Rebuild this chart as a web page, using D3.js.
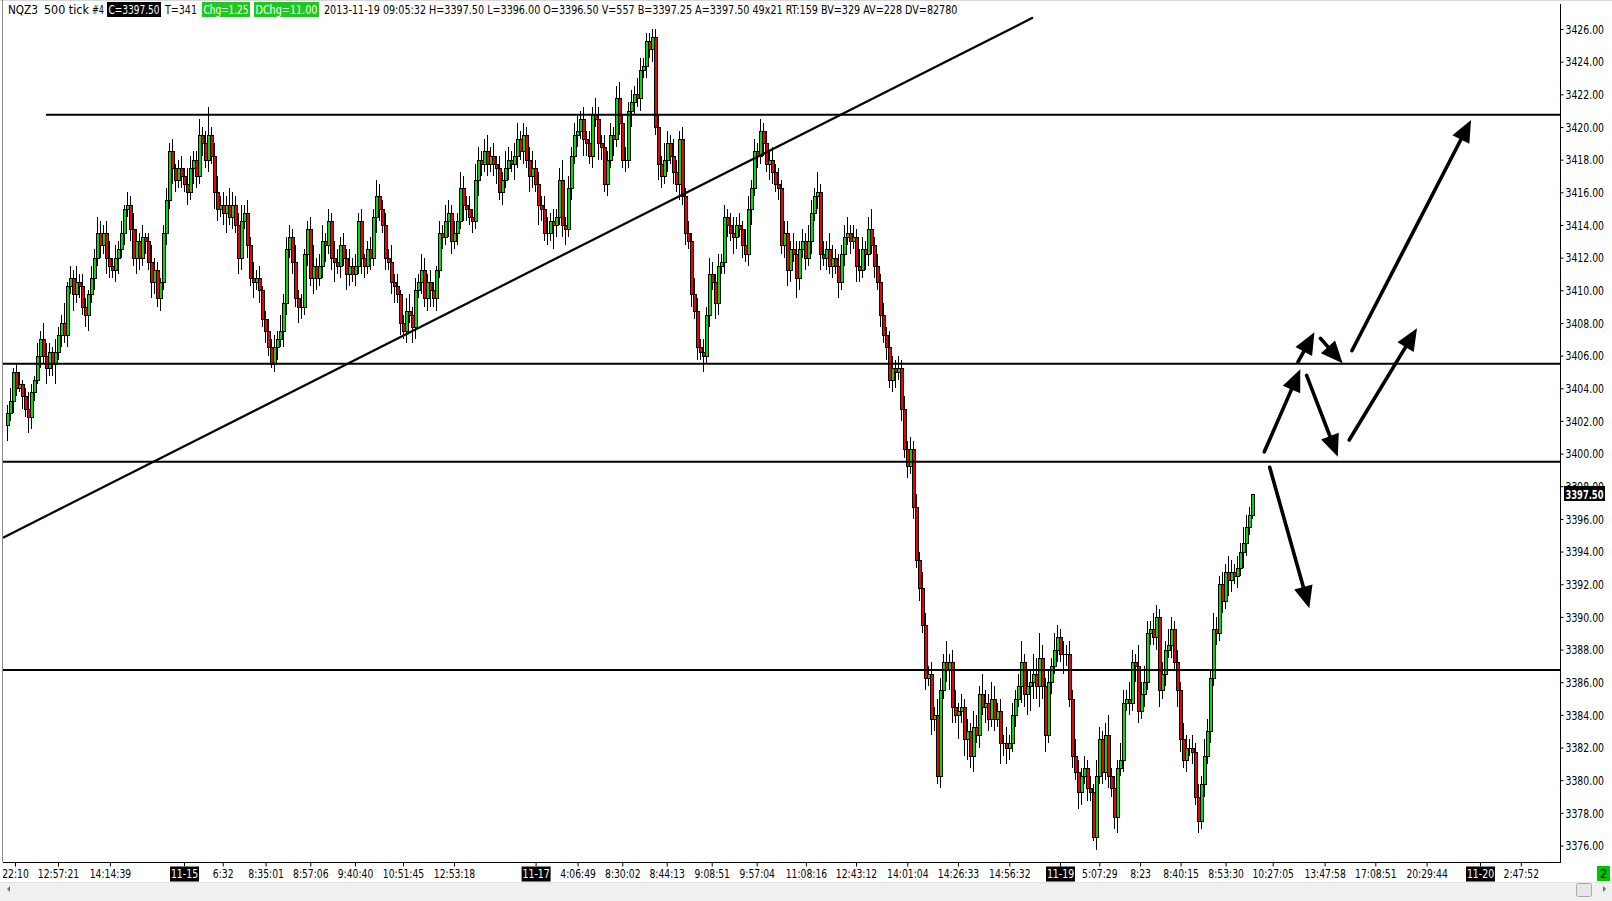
<!DOCTYPE html>
<html><head><meta charset="utf-8">
<script src="https://cdn.jsdelivr.net/npm/d3@7"></script>
<style>
html,body{margin:0;padding:0;background:#fff;overflow:hidden}
svg{display:block}
text{font-family:"DejaVu Sans Condensed","DejaVu Sans",sans-serif;font-size:13px;fill:#000}
</style></head><body>
<svg id="c" width="1612" height="901"></svg>
<script>
// ---------- DATA ----------
const firstOpen = 3401.75;
const closes = [
3402.5,3403.25,3405,3404,3404.25,3403.5,3402.75,3402.25,3403.75,3404.5,3406,3407,3406,3405.25,3406.25,3405.5,3406.25,3407.25,3408,3407.25,
3410.25,3410.75,3409.75,3410.5,3410.25,3409,3408.5,3409.75,3410.75,3412,3413.5,3412.75,3413.5,3412,3411.5,3411.25,3412,3412.5,3413.5,3415,
3415.25,3413.75,3412,3413,3412,3413.25,3413,3411.75,3410.5,3411.25,3409.5,3410.5,3413.5,3415.5,3418.5,3417.5,3416.75,3417.5,3417,3416.5,
3416,3417.5,3418,3417,3419.5,3419,3418,3419.5,3418.25,3416,3415,3415.25,3414.75,3415.25,3414.5,3415.25,3414,3412,3414.25,3414.75,
3412.75,3410.75,3410.5,3410.75,3410,3408.25,3407.5,3406.5,3405.5,3406.5,3407,3407.5,3409.25,3412.5,3413.25,3411.75,3409.5,3409,3409,3412.25,
3413.75,3410.75,3411.5,3410.75,3411.5,3413,3412.75,3414.25,3412,3411.75,3411.5,3412.75,3412,3411,3411.5,3411,3411.5,3414.25,3412,3411.5,
3412.5,3412,3414.5,3415.75,3415,3414,3412,3411.75,3410.5,3410.25,3409.75,3408,3407.5,3408.75,3408.5,3407.75,3410,3410.5,3411.25,3409.5,
3410.5,3410,3409.5,3411.25,3413.5,3413.25,3414.25,3414.75,3413,3413.5,3414.25,3416.25,3415.25,3415,3414.5,3414.25,3416.75,3418,3417.75,3418.5,
3417.75,3418.25,3417.75,3417.5,3416,3416.75,3417.5,3418,3417.75,3418.25,3419.25,3418.5,3419.5,3418,3417,3417.5,3416.5,3415.25,3415,3413.5,
3413.5,3414.25,3414,3414.5,3416.75,3414,3413.75,3416.25,3418.25,3419.5,3419.75,3420.5,3419.25,3419,3418.25,3420.75,3420.5,3419,3418.75,3416.5,
3418,3419.5,3419.25,3421.75,3420.25,3418,3418,3421,3421.5,3422,3421.75,3423.5,3423.75,3425.25,3424.75,3425.5,3420,3417.75,3417,3418,
3419,3418.25,3417.25,3416.5,3419.25,3415.75,3413.5,3413,3409.75,3408.75,3406.5,3406.25,3406,3408.5,3411,3410.5,3409.25,3411.5,3411.75,3414.5,
3414,3413.5,3413.25,3414,3413.75,3412.75,3412.25,3415,3416.25,3418.5,3418.25,3419.75,3419,3417.75,3418,3417.25,3416.5,3416.25,3412.75,3413.5,
3411.25,3412.5,3412.25,3410.75,3412.5,3413,3412,3413,3414.75,3415.75,3416,3412.25,3412,3412.5,3411.5,3412,3411.5,3410.5,3412.25,3413.25,
3413.5,3413,3413.25,3411.5,3411.25,3412.5,3412.25,3413.75,3412.75,3411.5,3410.5,3408.5,3407.25,3406.5,3404.5,3405.25,3405,3405.25,3402.75,3400.25,
3399.25,3400.25,3396.75,3393.5,3391.75,3389.5,3386.25,3386.5,3383.75,3384,3380.25,3385.5,3387.25,3386.75,3387.25,3384.5,3384,3384.25,3384.5,3382.5,
3383,3381.5,3383.25,3382.75,3385.25,3384.5,3384.75,3383.75,3385,3383.75,3384.25,3382.25,3382.25,3382,3382.25,3384,3385,3385.75,3387.25,3385.25,
3385.75,3386,3386.5,3385.75,3387.5,3385.75,3382.75,3386,3387,3388,3388.75,3387.75,3387.75,3387.75,3385,3381.5,3380.5,3379.25,3380.25,3380.75,
3379.5,3379.25,3376.5,3380.25,3382.5,3380.5,3382.75,3380.25,3379.5,3377.75,3380.75,3381.25,3384.75,3385,3384.75,3387.25,3387,3384.25,3385.25,3386,
3389,3389.25,3388.75,3390,3385.5,3386.5,3388,3388.25,3389.25,3387.25,3385.5,3382.5,3381.25,3382,3382,3381.75,3379,3377.5,3379.75,3381.5,
3383,3386.25,3389.25,3389,3392,3391,3392.75,3392.25,3392.75,3392.5,3393,3394,3394.5,3395.5,3396.25,3397.5
];
// wick lengths in ticks (0.25 pt) above / below the body
const wickUp = [
2,3,1,2,3,1,2,4,2,1,3,2,4,3,2,1,3,2,2,5,
1,3,2,4,2,3,2,1,3,2,4,3,2,3,4,2,3,2,3,1,
3,2,4,3,2,3,1,2,4,3,2,1,2,3,2,3,1,2,3,2,
4,3,2,2,4,2,3,7,2,3,4,2,3,2,4,3,2,3,4,2,
3,2,4,2,3,1,2,3,2,3,2,4,2,3,3,2,4,2,3,1,
2,3,5,2,3,4,2,3,2,4,3,2,3,2,4,2,3,2,3,1,
2,3,2,4,3,2,3,2,4,2,3,1,2,3,4,2,3,2,4,3,
2,3,2,1,3,2,4,3,2,3,2,4,3,2,3,2,4,3,2,3,
4,2,3,2,3,2,4,3,2,3,4,2,3,2,3,4,2,3,2,3,
4,2,3,2,3,5,2,3,2,3,4,2,3,2,3,2,4,3,2,3,
2,3,2,3,4,2,3,2,3,2,4,3,2,2,2,2,2,3,2,4,
3,2,4,3,2,3,2,3,2,4,3,2,3,2,4,3,2,3,2,3,
2,3,4,2,3,2,4,3,2,3,2,3,2,3,2,3,2,4,2,3,
3,2,4,3,2,3,2,4,3,2,5,2,3,2,4,3,2,3,2,3,
4,2,3,2,4,3,2,3,5,2,3,2,3,2,4,3,2,3,2,3,
2,3,2,3,2,4,3,2,3,2,4,3,2,5,2,3,4,2,3,2,
3,2,4,3,2,5,3,2,4,3,2,3,2,4,2,3,2,3,5,2,
4,3,5,4,6,3,2,3,2,4,3,2,3,2,3,2,4,3,2,3,
2,3,2,4,3,2,3,5,2,3,2,4,3,2,4,3,2,5,3,4,
3,2,4,3,2,3,2,4,3,2,3,2,4,3,2,3,2,3,2,4,
3,2,4,3,2,3,2,4,3,2,3,2,4,3,2,0
];
const wickDown = [
4,2,3,2,1,3,2,4,3,2,1,3,2,4,2,3,5,2,3,2,
3,2,4,2,3,2,3,4,2,3,2,3,2,4,3,2,3,4,2,3,
2,3,2,4,3,2,3,2,4,3,2,3,2,3,2,4,3,2,3,2,
3,2,4,3,2,3,2,3,2,4,3,2,3,5,2,3,2,4,3,2,
3,2,4,2,3,2,3,2,1,2,3,2,4,3,2,3,2,4,3,2,
3,2,4,3,2,3,4,2,3,5,2,3,2,4,3,2,3,2,4,3,
2,3,2,4,3,2,3,2,3,4,2,3,2,3,2,4,3,2,3,2,
3,4,2,3,2,3,2,4,3,2,3,2,4,3,2,3,2,4,3,2,
3,2,3,4,2,3,2,3,2,4,3,2,3,2,4,3,2,5,3,2,
3,2,6,3,2,3,4,2,3,2,3,2,4,3,2,3,2,4,3,2,
3,2,4,2,3,2,3,2,4,3,2,3,2,3,2,3,2,4,3,2,
3,2,3,2,4,2,3,2,3,2,3,2,4,2,3,2,4,3,2,3,
3,2,4,3,2,3,2,3,4,2,3,2,3,2,4,3,2,3,2,3,
4,3,2,5,3,2,3,2,3,2,3,4,2,3,2,3,2,4,2,3,
2,3,2,4,3,2,4,3,2,3,2,3,2,3,2,3,4,2,3,2,
3,2,3,2,3,2,3,2,4,3,2,3,2,3,5,4,2,6,3,4,
5,3,4,2,3,2,4,3,2,3,2,5,3,4,3,2,3,2,4,3,
5,6,4,3,5,3,4,2,3,2,3,2,5,3,2,3,2,4,3,2,
3,2,1,3,2,3,2,3,2,3,4,2,3,2,3,2,4,3,2,3,
2,3,2,3,4,2,3,2,3,2,4,3,2,3,2,3,2,3,2,3,
2,3,2,3,2,3,2,4,3,2,3,2,4,3,2,1
];

const yTickValues = [3376,3378,3380,3382,3384,3386,3388,3390,3392,3394,3396,3398,3400,
  3402,3404,3406,3408,3410,3412,3414,3416,3418,3420,3422,3424,3426];
const lastPrice = 3397.5;

const xTickIndex = [2.67,17,34.3,59,71.9,86.2,101.1,116,132,149,176.2,190.2,205.1,219.9,234.9,249.9,
  266.3,283,300.1,317,334.1,351,364.1,377.7,391.2,406.2,421.9,439.2,456.1,473.2,491,504.6];
const xTickLabels = ["22:10","12:57:21","14:14:39","11-15","6:32","8:35:01","8:57:06","9:40:40","10:51:45","12:53:18",
  "11-17","4:06:49","8:30:02","8:44:13","9:08:51","9:57:04","11:08:16","12:43:12","14:01:04","14:26:33","14:56:32",
  "11-19","5:07:29","8:23","8:40:15","8:53:30","10:27:05","13:47:58","17:08:51","20:29:44","11-20","2:47:52"];
const dateLabels = ["11-15","11-17","11-19","11-20"];

// horizontal support / resistance levels and where they start (bar index)
const levelValues = [3420.75, 3405.5, 3399.5, 3386.75];
const levelStarts = [13, -1.33, -1.33, -1.33];
// trend line: [bar index, price]
const trendFrom = [-1.33, 3394.85];
const trendTo = [342, 3426.7];
// drawn arrows: [fromIndex, fromPrice, toIndex, toPrice]
const arrows = [
  [419.1, 3400.11, 431.1, 3405.16],
  [433.2, 3404.79, 443.6, 3399.81],
  [447.4, 3400.83, 470.0, 3407.67],
  [420.9, 3399.16, 434.1, 3390.53],
  [430.3, 3405.6, 435.8, 3407.43],
  [437.8, 3407.06, 445.2, 3405.53],
  [448.3, 3406.30, 488.0, 3420.43]
];

// header strip: [text, x, width, box colour or null, text colour]
const headerItems = [
  ["NQZ3", 8, 30, null, "#000"],
  ["500 tick", 44, 45, null, "#000"],
  ["#4", 92, 12, null, "#000"],
  ["C=3397.50", 107, 54, "#000", "#fff"],
  ["T=341", 165, 32, null, "#000"],
  ["Chg=1.25", 202, 48, "#1ec81e", "#fff"],
  ["DChg=11.00", 254, 65, "#1ec81e", "#fff"],
  ["2013-11-19 09:05:32 H=3397.50 L=3396.00 O=3396.50 V=557 B=3397.25 A=3397.50 49x21 RT:159 BV=329 AV=228 DV=82780", 324, 634, null, "#000"]
];

// ---------- DRAW ----------
const svg = d3.select("#c");
const W = 1612, H = 901;
const axisX = 1560, axisY = 862;
const FS = 13;
// narrow-font advance widths (em) used to size the condensed labels
function narrowWidth(s) {
  let w = 0;
  for (const ch of s) {
    if (/[0-9]/.test(ch)) w += 0.456;
    else if (ch === ":" || ch === "." || ch === " ") w += 0.228;
    else if (ch === "-") w += 0.273;
    else w += 0.45;
  }
  return w * FS;
}
// horizontally compress a text element to a target width with a scale transform
function fitText(t, target, tx, ty) {
  const natural = t.node().getComputedTextLength();
  const sx = natural > 0 ? target / natural : 1;
  t.attr("transform", `translate(${tx},${ty}) scale(${sx},1)`);
}

const x = d3.scaleLinear().domain([0, 518]).range([7, 7 + 3 * 518]);
const y = d3.scaleLinear().domain([3376, 3426]).range([845.5, 29]);

svg.append("rect").attr("width", W).attr("height", H).attr("fill", "#fff");

const bars = closes.map((c, i) => {
  const o = i === 0 ? firstOpen : closes[i - 1];
  const hi = Math.max(o, c) + wickUp[i] * 0.25;
  const lo = Math.min(o, c) - wickDown[i] * 0.25;
  return {i, o, c, hi, lo};
});

const plot = svg.append("g").attr("shape-rendering", "crispEdges");
bars.forEach(b => {
  const px = Math.round(x(b.i));
  const g = plot.append("g");
  const yh = Math.round(y(b.hi)), yl = Math.round(y(b.lo));
  g.append("rect").attr("x", px).attr("y", yh).attr("width", 1).attr("height", Math.max(1, yl - yh)).attr("fill", "#000");
  const top = Math.round(y(Math.max(b.o, b.c))), bot = Math.round(y(Math.min(b.o, b.c)));
  g.append("rect").attr("x", px - 1).attr("y", top).attr("width", 4).attr("height", Math.max(1, bot - top + 1)).attr("fill", "#000");
  if (bot - top - 1 > 0) {
    g.append("rect").attr("x", px).attr("y", top + 1).attr("width", 2).attr("height", bot - top - 1)
      .attr("fill", b.c >= b.o ? "#00e000" : "#f00000");
  }
});

// levels
levelValues.forEach((v, k) => {
  svg.append("line").attr("x1", x(levelStarts[k])).attr("x2", axisX)
    .attr("y1", y(v)).attr("y2", y(v)).attr("stroke", "#000").attr("stroke-width", 2);
});
// trend line
svg.append("line").attr("x1", x(trendFrom[0])).attr("y1", y(trendFrom[1]))
  .attr("x2", x(trendTo[0])).attr("y2", y(trendTo[1])).attr("stroke", "#000").attr("stroke-width", 2.2);

// arrows
const headLen = 22, headHalf = 9.5;
arrows.forEach(a => {
  const x1 = x(a[0]), y1 = y(a[1]), x2 = x(a[2]), y2 = y(a[3]);
  const dx = x2 - x1, dy = y2 - y1, L = Math.hypot(dx, dy);
  const ux = dx / L, uy = dy / L;
  const bx = x2 - ux * headLen, by = y2 - uy * headLen;
  if (L > headLen) {
    svg.append("line").attr("x1", x1).attr("y1", y1).attr("x2", bx + ux * 2).attr("y2", by + uy * 2)
      .attr("stroke", "#000").attr("stroke-width", 3.6).attr("stroke-linecap", "round");
  }
  svg.append("path").attr("d", `M${x2},${y2}L${bx - uy * headHalf},${by + ux * headHalf}L${bx + uy * headHalf},${by - ux * headHalf}Z`)
    .attr("fill", "#000");
});

// frame
svg.append("line").attr("x1", 0).attr("x2", W).attr("y1", 0.5).attr("y2", 0.5).attr("stroke", "#d8d8d8");
svg.append("line").attr("x1", 2.5).attr("x2", 2.5).attr("y1", 0).attr("y2", axisY).attr("stroke", "#8a8a8a");
svg.append("line").attr("x1", axisX + 0.5).attr("x2", axisX + 0.5).attr("y1", 4).attr("y2", axisY + 0.5).attr("stroke", "#000");
svg.append("line").attr("x1", 3).attr("x2", axisX + 1).attr("y1", axisY + 0.5).attr("y2", axisY + 0.5).attr("stroke", "#000");

// right axis
const yAxis = svg.append("g").attr("transform", `translate(${axisX + 0.5},0)`)
  .call(d3.axisRight(y).tickValues(yTickValues).tickFormat(d3.format(".2f")).tickSize(3).tickSizeOuter(0).tickPadding(2));
yAxis.select(".domain").remove();
yAxis.attr("font-family", null).attr("font-size", null);
yAxis.selectAll("text").each(function() {
  const t = d3.select(this).style("font-size", FS + "px").attr("x", 0);
  fitText(t, narrowWidth(t.text()), 5, 0);
});

// last price marker
const lp = svg.append("g").attr("transform", `translate(1564,${Math.round(y(lastPrice))})`);
lp.append("rect").attr("x", 0).attr("y", -8).attr("width", 41).attr("height", 15).attr("fill", "#000");
const lpt = lp.append("text").attr("y", 4.5).style("fill", "#fff").style("font-weight", "bold").text(lastPrice.toFixed(2));
fitText(lpt, 38, 1.5, 0);

// bottom axis
const xAxis = svg.append("g").attr("transform", `translate(0,${axisY + 0.5})`)
  .call(d3.axisBottom(x).tickValues(xTickIndex).tickFormat((d, k) => xTickLabels[k]).tickSize(4).tickSizeOuter(0).tickPadding(2));
xAxis.select(".domain").remove();
xAxis.attr("font-family", null).attr("font-size", null);
xAxis.selectAll(".tick").each(function(d, k) {
  const t = d3.select(this);
  const txt = t.select("text").style("font-size", FS + "px");
  fitText(txt, narrowWidth(txt.text()), 0, 0);
  if (dateLabels.includes(xTickLabels[k])) {
    t.insert("rect", "text").attr("x", -14.5).attr("y", 4).attr("width", 29).attr("height", 15).attr("fill", "#000");
    txt.style("fill", "#fff");
  }
});

// header
headerItems.forEach(h => {
  if (h[3]) {
    svg.append("rect").attr("x", h[1]).attr("y", 2).attr("width", h[2]).attr("height", 15).attr("fill", h[3]);
  }
  const t = svg.append("text").attr("x", 0).attr("y", 0).style("fill", h[4]).text(h[0]);
  fitText(t, h[2] - (h[3] ? 3 : 0), h[1] + (h[3] ? 1.5 : 0), 14);
});

// scrollbar strip
svg.append("rect").attr("x", 0).attr("y", 882).attr("width", W).attr("height", 19).attr("fill", "#f0f0f0");
svg.append("line").attr("x1", 0).attr("x2", W).attr("y1", 882.5).attr("y2", 882.5).attr("stroke", "#e2e2e2");
svg.append("path").attr("d", "M7,889L10,886L10,892Z").attr("fill", "#707070");
svg.append("path").attr("d", "M1606,889L1603,886L1603,892Z").attr("fill", "#707070");
svg.append("rect").attr("x", 1576.5).attr("y", 883.5).attr("width", 15).attr("height", 13).attr("rx", 2)
  .attr("fill", "#e8e8e8").attr("stroke", "#a8a8a8");
// green status box
svg.append("rect").attr("x", 1597).attr("y", 866).attr("width", 13).attr("height", 15).attr("fill", "#00c400");
svg.append("text").attr("x", 1600).attr("y", 878).text("2");
</script>
</body></html>
